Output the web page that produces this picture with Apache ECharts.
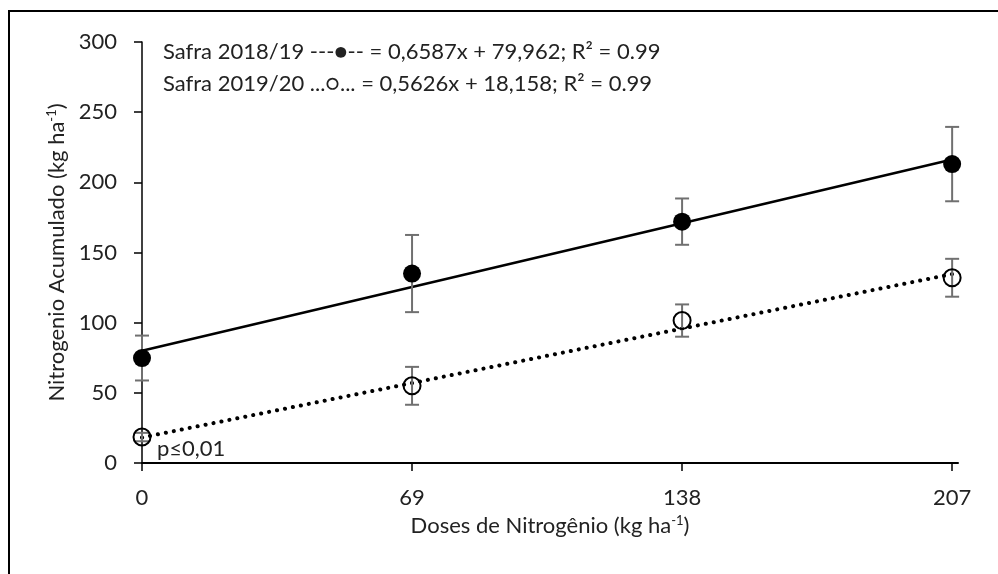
<!DOCTYPE html>
<html>
<head>
<meta charset="utf-8">
<script src="https://cdn.jsdelivr.net/npm/echarts@6/dist/echarts.min.js"></script>
<style>
  html, body { margin: 0; padding: 0; background: #fff; }
  #chart { width: 998px; height: 574px; }
</style>
</head>
<body>
<div id="chart"></div>
<script>
// doses (x) and measured values
var doses = [0, 69, 138, 207];
var safra1819 = [74.8, 135, 172, 213];
var err1819 = [16, 27.5, 16.5, 26.5];
var safra1920 = [18.5, 55, 101.5, 132];
var err1920 = [3, 13.5, 11.5, 13.5];

// regression line end points (from the printed equations)
var trendX = [0, 207];
var trend1819 = [79.962, 216.31];
var trend1920 = [18.158, 134.62];

var yTicks = [0, 50, 100, 150, 200, 250, 300];
var FONT = "Lato, 'Open Sans', sans-serif";
var FS = 22;

var chart = echarts.init(document.getElementById("chart"));

function errorData(vals, errs) {
  return doses.map(function (d, i) {
    return [d, vals[i] - errs[i], vals[i] + errs[i]];
  });
}

function renderError(params, api) {
  var x = api.value(0);
  var lo = api.coord([x, api.value(1)]);
  var hi = api.coord([x, api.value(2)]);
  var cap = 7;
  var st = { stroke: "#707070", lineWidth: 2 };
  return {
    type: "group",
    children: [
      { type: "line", shape: { x1: hi[0], y1: hi[1], x2: lo[0], y2: lo[1] }, style: st },
      { type: "line", shape: { x1: hi[0] - cap, y1: hi[1], x2: hi[0] + cap, y2: hi[1] }, style: st },
      { type: "line", shape: { x1: lo[0] - cap, y1: lo[1], x2: lo[0] + cap, y2: lo[1] }, style: st }
    ]
  };
}

var nameRich = {
  a: { fontFamily: FONT, fontSize: FS, color: "#222" },
  s: { fontFamily: FONT, fontSize: 13, color: "#222", padding: [0, 0, 10, 0] }
};

var option = {
  animation: false,
  backgroundColor: "#fff",
  grid: { left: 142, right: 40, top: 42, bottom: 111 },
  xAxis: {
    type: "value",
    min: 0,
    max: 208.5,
    name: "{a|Doses de Nitrogênio (kg ha}{s|-1}{a|)}",
    nameLocation: "middle",
    nameGap: 51,
    nameTextStyle: { rich: nameRich },
    axisLine: { lineStyle: { color: "#000", width: 2 } },
    axisTick: { show: true, length: 8, customValues: doses, lineStyle: { color: "#000", width: 1.5 } },
    axisLabel: { customValues: doses, fontFamily: FONT, fontSize: FS, color: "#222", margin: 24 },
    splitLine: { show: false }
  },
  yAxis: {
    type: "value",
    min: 0,
    max: 300,
    interval: 50,
    name: "{a|Nitrogenio Acumulado (kg ha}{s|-1}{a|)}",
    nameLocation: "middle",
    nameGap: 66,
    nameRotate: 90,
    nameTextStyle: { rich: nameRich },
    axisLine: { show: true, lineStyle: { color: "#000", width: 1.5 } },
    axisTick: { show: true, length: 8, lineStyle: { color: "#000", width: 1.5 } },
    axisLabel: { fontFamily: FONT, fontSize: FS, color: "#222", margin: 25 },
    splitLine: { show: false }
  },
  graphic: [
    { type: "rect", shape: { x: 9, y: 11, width: 1100, height: 700 }, style: { fill: null, stroke: "#000", lineWidth: 2 }, silent: true },
    { type: "text", left: 163, top: 41, style: { text: "Safra 2018/19 ---●-- = 0,6587x + 79,962; R² = 0.99", font: FS + "px " + FONT, fill: "#222" } },
    { type: "text", left: 163, top: 73, style: { text: "Safra 2019/20 ...○... = 0,5626x + 18,158; R² = 0.99", font: FS + "px " + FONT, fill: "#222" } },
    { type: "text", left: 157, top: 438, style: { text: "p≤0,01", font: FS + "px " + FONT, fill: "#222" } }
  ],
  series: [
    {
      type: "line",
      data: trendX.map(function (x, i) { return [x, trend1819[i]]; }),
      showSymbol: false,
      lineStyle: { color: "#000", width: 2.5 },
      z: 2
    },
    {
      type: "line",
      data: trendX.map(function (x, i) { return [x, trend1920[i]]; }),
      showSymbol: false,
      lineStyle: { color: "#000", width: 4, type: [0.1, 8], cap: "round" },
      z: 2
    },
    { type: "custom", renderItem: renderError, data: errorData(safra1819, err1819), z: 3 },
    { type: "custom", renderItem: renderError, data: errorData(safra1920, err1920), z: 3 },
    {
      type: "scatter",
      data: doses.map(function (d, i) { return [d, safra1819[i]]; }),
      symbol: "circle",
      symbolSize: 18,
      itemStyle: { color: "#000", opacity: 1 },
      z: 4
    },
    {
      type: "scatter",
      data: doses.map(function (d, i) { return [d, safra1920[i]]; }),
      symbol: "circle",
      symbolSize: 17,
      itemStyle: { color: "rgba(0,0,0,0)", borderColor: "#000", borderWidth: 2, opacity: 1 },
      z: 4
    }
  ]
};

chart.setOption(option);
</script>
</body>
</html>
